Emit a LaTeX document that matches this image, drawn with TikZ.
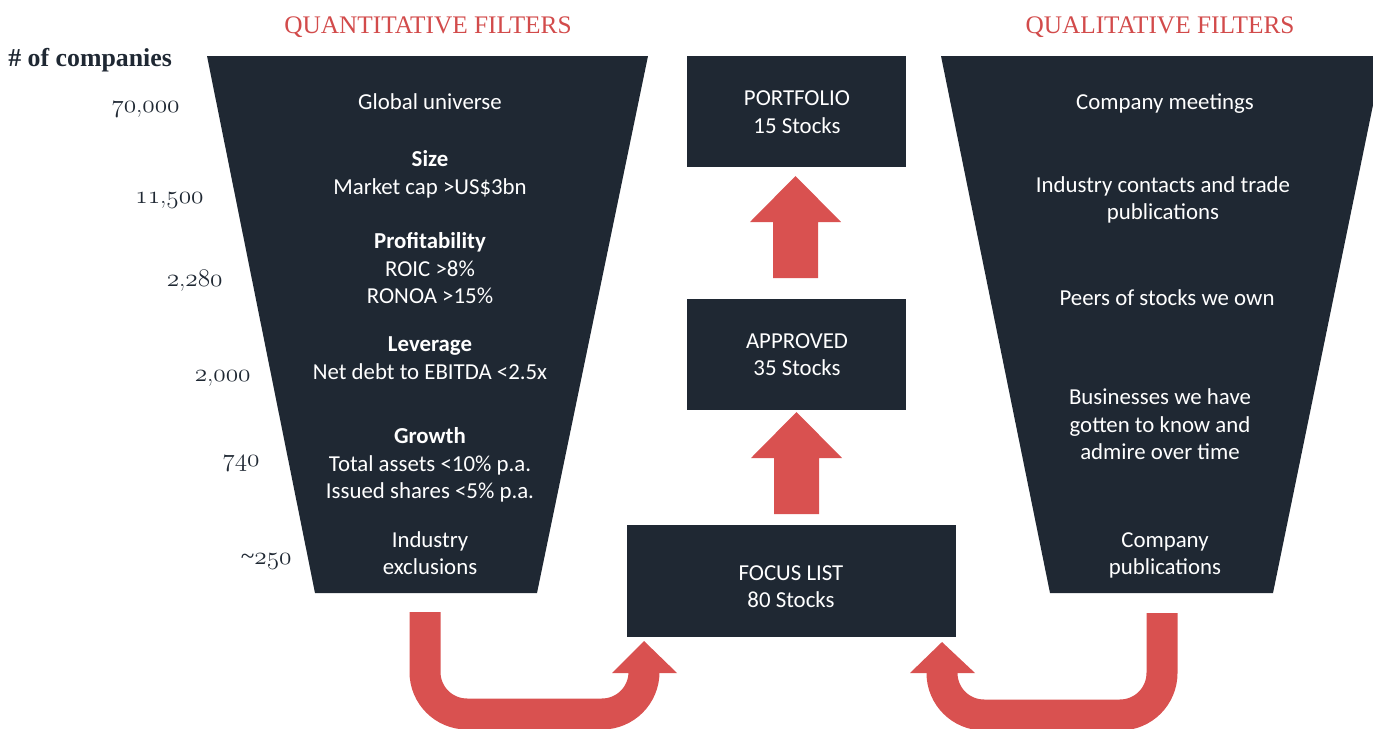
\documentclass[tikz,border=0pt]{standalone}
\usepackage{fontspec}
\setmainfont{Latin Modern Roman}
\newfontfamily\bodyfont{Carlito}
\newfontfamily\headfont{Liberation Serif}
\newcommand\osn[1]{{\usefont{OML}{cmm}{m}{it}#1}}
\definecolor{navy}{HTML}{1F2833}
\definecolor{redarrow}{HTML}{D95150}
\definecolor{redhead}{HTML}{D24B4B}
\begin{document}
\begin{tikzpicture}[x=0.02cm,y=-0.02cm,
  funnel/.style={fill=navy},
  box/.style={fill=navy, draw=none, inner sep=0pt},
  wtext/.style={text=white, font=\bodyfont\fontsize{13}{15.6}\selectfont, anchor=base, inner sep=0pt},
  wbold/.style={wtext, font=\bodyfont\bfseries\fontsize{13}{15.6}\selectfont},
  numtext/.style={text=navy, font=\fontsize{14.3}{16}\selectfont, anchor=base east, inner sep=0pt},
  header/.style={text=redhead, font=\headfont\fontsize{14.4}{16}\selectfont, anchor=base, inner sep=0pt},
  redfill/.style={fill=redarrow, draw=none},
  uarrow/.style={draw=redarrow, line width=31*0.02cm, rounded corners=42*0.02cm, line cap=butt}
]
\useasboundingbox (0,0) rectangle (1373,728);

% headers
\node[header] (hq) at (428,33) {QUANTITATIVE FILTERS};
\node[header] (hl) at (1160,33) {QUALITATIVE FILTERS};
\node[text=navy, font=\headfont\bfseries\fontsize{14.7}{16}\selectfont, anchor=base west, inner sep=0pt] (hc) at (8,66) {\# of companies};

% funnels
\path[funnel] (207,56) -- (648,56) -- (537,593) -- (315,593) -- cycle;
\path[funnel] (941,56) -- (1373,56) -- (1373,105) -- (1273,593) -- (1050,593) -- cycle;

% numbers
\node[numtext] (n1) at (180,112) {\osn{70},\osn{000}};
\node[numtext] (n2) at (204,203) {\osn{11},\osn{500}};
\node[numtext] (n3) at (223,286) {\osn{2},\osn{280}};
\node[numtext] (n4) at (251,381) {\osn{2},\osn{000}};
\node[numtext] (n5) at (260,466) {\osn{740}};
\node[numtext] (n6) at (292,564) {{\headfont\textasciitilde}\osn{250}};

% left funnel texts
\node[wtext] (l1) at (430,109) {Global universe};
\node[wbold] (l2) at (430,166) {Size};
\node[wtext] (l3) at (430,194) {Market cap >US\$3bn};
\node[wbold] (l4) at (430,248) {Profitability};
\node[wtext] (l5) at (430,276) {ROIC >8\%};
\node[wtext] (l6) at (430,303) {RONOA >15\%};
\node[wbold] (l7) at (430,351) {Leverage};
\node[wtext] (l8) at (430,379) {Net debt to EBITDA <2.5x};
\node[wbold] (l9) at (430,443) {Growth};
\node[wtext] (l10) at (430,471) {Total assets <10\% p.a.};
\node[wtext] (l11) at (430,498) {Issued shares <5\% p.a.};
\node[wtext] (l12) at (430,547) {Industry};
\node[wtext] (l13) at (430,574) {exclusions};

% right funnel texts
\node[wtext] (r1) at (1165,109) {Company meetings};
\node[wtext] (r2) at (1163,192) {Industry contacts and trade};
\node[wtext] (r3) at (1163,219) {publications};
\node[wtext] (r4) at (1167,305) {Peers of stocks we own};
\node[wtext] (r5) at (1160,404) {Businesses we have};
\node[wtext] (r6) at (1160,432) {gotten to know and};
\node[wtext] (r7) at (1160,459) {admire over time};
\node[wtext] (r8) at (1165,547) {Company};
\node[wtext] (r9) at (1165,574) {publications};

% middle boxes
\path[box] (687,56) rectangle (906,167);
\path[box] (687,299) rectangle (906,410);
\path[box] (627,525) rectangle (956,637);
\node[wtext] (p1) at (797,105) {PORTFOLIO};
\node[wtext] (p2) at (797,133) {15 Stocks};
\node[wtext] (a1) at (797,348) {APPROVED};
\node[wtext] (a2) at (797,375) {35 Stocks};
\node[wtext] (f1) at (791,580) {FOCUS LIST};
\node[wtext] (f2) at (791,607) {80 Stocks};

% up arrows
\path[redfill] (773,278) -- (773,222) -- (750,222) -- (795.5,176) -- (841,222) -- (818,222) -- (818,278) -- cycle;
\path[redfill] (774,514) -- (774,458) -- (751,458) -- (796.5,412) -- (842,458) -- (819,458) -- (819,514) -- cycle;

% U arrows
\draw[uarrow] (425,612) -- (425,714) -- (644,714) -- (644,672);
\path[redfill] (612,673) -- (677,673) -- (644,641) -- cycle;
\draw[uarrow] (1162,613) -- (1162,715) -- (942,715) -- (942,672);
\path[redfill] (910,673) -- (975,673) -- (942,642) -- cycle;
\end{tikzpicture}
\end{document}
